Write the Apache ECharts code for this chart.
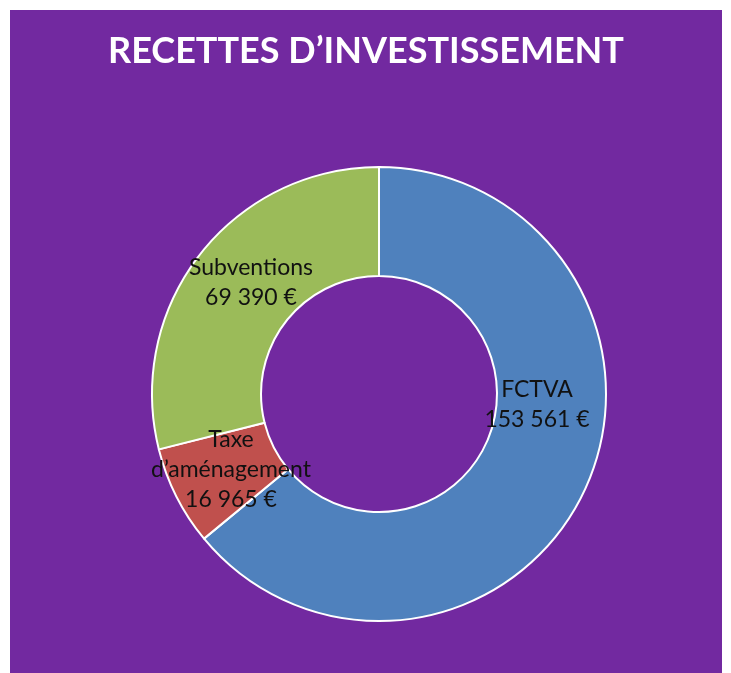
<!DOCTYPE html>
<html>
<head>
<meta charset="utf-8">
<script src="https://cdn.jsdelivr.net/npm/echarts@6/dist/echarts.min.js"></script>
<style>
  html, body { margin: 0; padding: 0; background: #fff; }
  #chart { position: absolute; left: 10px; top: 10px; width: 712px; height: 663px; }
</style>
</head>
<body>
<div id="chart"></div>
<script>
// recettes d'investissement (€)
var categories = ['FCTVA', 'Taxe\nd’aménagement', 'Subventions']
var amounts = [153561, 16965, 69390]
var sliceColors = ['#4f81bd', '#c0504d', '#9bbb59'] // bleu, rouge, vert

// label block centres, chart pixels
var labelPos = [[527, 395], [221, 460], [241, 273]]

function euros(v) {
  return String(v).replace(/\B(?=(\d{3})+(?!\d))/g, ' ') + ' €'
}

var chart = echarts.init(document.getElementById('chart'))
chart.setOption({
  backgroundColor: '#7229a0',
  animation: false,
  title: {
    text: 'RECETTES D’INVESTISSEMENT',
    left: 'center',
    top: 18,
    textStyle: {
      color: '#fff',
      fontFamily: 'Lato',
      fontWeight: 'bold',
      fontSize: 36
    }
  },
  series: [{
    type: 'pie',
    center: [369, 384],
    radius: [118, 227],
    startAngle: 90,
    clockwise: true,
    silent: true,
    itemStyle: {
      borderColor: '#fff',
      borderWidth: 2
    },
    label: {
      show: true,
      position: 'inside',
      color: '#111',
      fontFamily: 'Lato',
      fontSize: 23,
      lineHeight: 30,
      align: 'center',
      formatter: function (p) {
        return p.name + '\n' + euros(p.value)
      }
    },
    labelLine: { show: false },
    labelLayout: function (params) {
      var pos = labelPos[params.dataIndex]
      return { x: pos[0], y: pos[1], align: 'center', verticalAlign: 'middle' }
    },
    data: categories.map(function (name, i) {
      return { name: name, value: amounts[i], itemStyle: { color: sliceColors[i] } }
    })
  }]
})
</script>
</body>
</html>
